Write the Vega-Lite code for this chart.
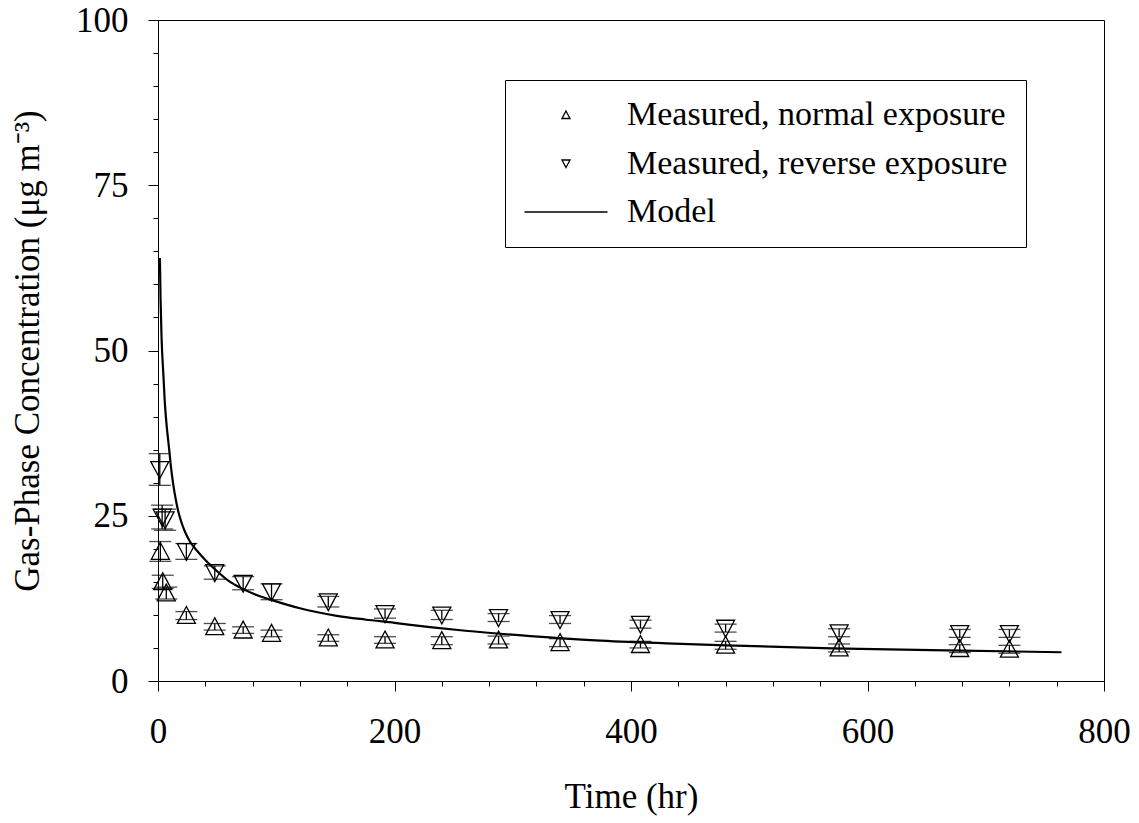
{
  "$schema": "https://vega.github.io/schema/vega-lite/v6.json",
  "width": 946,
  "height": 661,
  "autosize": {"type": "none"},
  "padding": {"left": 158, "top": 20, "right": 35, "bottom": 142},
  "background": "white",
  "datasets": {
    "measured": [
      {"t": 2, "c": 19.6, "lo": 18.1, "hi": 21.1, "series": "Measured, normal exposure"},
      {"t": 4, "c": 15.0, "lo": 14.0, "hi": 16.0, "series": "Measured, normal exposure"},
      {"t": 7, "c": 13.3, "lo": 12.4, "hi": 14.2, "series": "Measured, normal exposure"},
      {"t": 24, "c": 9.9, "lo": 9.3, "hi": 10.5, "series": "Measured, normal exposure"},
      {"t": 48, "c": 8.2, "lo": 7.7, "hi": 8.7, "series": "Measured, normal exposure"},
      {"t": 72, "c": 7.7, "lo": 7.2, "hi": 8.2, "series": "Measured, normal exposure"},
      {"t": 96, "c": 7.2, "lo": 6.7, "hi": 7.7, "series": "Measured, normal exposure"},
      {"t": 144, "c": 6.5, "lo": 6.0, "hi": 7.0, "series": "Measured, normal exposure"},
      {"t": 192, "c": 6.2, "lo": 5.7, "hi": 6.7, "series": "Measured, normal exposure"},
      {"t": 240, "c": 6.1, "lo": 5.5, "hi": 6.7, "series": "Measured, normal exposure"},
      {"t": 288, "c": 6.2, "lo": 5.6, "hi": 6.8, "series": "Measured, normal exposure"},
      {"t": 340, "c": 5.8, "lo": 5.2, "hi": 6.4, "series": "Measured, normal exposure"},
      {"t": 408, "c": 5.5, "lo": 5.0, "hi": 6.0, "series": "Measured, normal exposure"},
      {"t": 480, "c": 5.4, "lo": 4.8, "hi": 6.0, "series": "Measured, normal exposure"},
      {"t": 576, "c": 5.0, "lo": 4.4, "hi": 5.6, "series": "Measured, normal exposure"},
      {"t": 678, "c": 4.9, "lo": 4.3, "hi": 5.5, "series": "Measured, normal exposure"},
      {"t": 720, "c": 4.8, "lo": 4.2, "hi": 5.4, "series": "Measured, normal exposure"},
      {"t": 1.5, "c": 32.0, "lo": 29.6, "hi": 34.4, "series": "Measured, reverse exposure"},
      {"t": 3.5, "c": 24.8, "lo": 23.0, "hi": 26.6, "series": "Measured, reverse exposure"},
      {"t": 6, "c": 24.4, "lo": 22.8, "hi": 26.0, "series": "Measured, reverse exposure"},
      {"t": 24, "c": 19.6, "lo": 18.4, "hi": 20.8, "series": "Measured, reverse exposure"},
      {"t": 48, "c": 16.4, "lo": 15.4, "hi": 17.4, "series": "Measured, reverse exposure"},
      {"t": 72, "c": 14.8, "lo": 13.8, "hi": 15.8, "series": "Measured, reverse exposure"},
      {"t": 96, "c": 13.5, "lo": 12.3, "hi": 14.7, "series": "Measured, reverse exposure"},
      {"t": 144, "c": 12.0, "lo": 11.2, "hi": 12.8, "series": "Measured, reverse exposure"},
      {"t": 192, "c": 10.2, "lo": 9.5, "hi": 10.9, "series": "Measured, reverse exposure"},
      {"t": 240, "c": 10.0, "lo": 9.3, "hi": 10.7, "series": "Measured, reverse exposure"},
      {"t": 288, "c": 9.6, "lo": 9.0, "hi": 10.2, "series": "Measured, reverse exposure"},
      {"t": 340, "c": 9.3, "lo": 8.7, "hi": 9.9, "series": "Measured, reverse exposure"},
      {"t": 408, "c": 8.6, "lo": 8.0, "hi": 9.2, "series": "Measured, reverse exposure"},
      {"t": 480, "c": 8.0, "lo": 7.4, "hi": 8.6, "series": "Measured, reverse exposure"},
      {"t": 576, "c": 7.3, "lo": 6.7, "hi": 7.9, "series": "Measured, reverse exposure"},
      {"t": 678, "c": 7.2, "lo": 6.6, "hi": 7.8, "series": "Measured, reverse exposure"},
      {"t": 720, "c": 7.2, "lo": 6.6, "hi": 7.8, "series": "Measured, reverse exposure"}
    ],
    "model": [
      {"t": 1.6, "c": 64},
      {"t": 2.2, "c": 57.5},
      {"t": 3, "c": 52},
      {"t": 4.5, "c": 46.5},
      {"t": 6, "c": 41.5},
      {"t": 7.5, "c": 38.3},
      {"t": 9, "c": 35.8},
      {"t": 11, "c": 32.3},
      {"t": 13, "c": 29.6},
      {"t": 15, "c": 27.5},
      {"t": 17.5, "c": 25.4},
      {"t": 20, "c": 23.9},
      {"t": 23, "c": 22.5},
      {"t": 27, "c": 21.1},
      {"t": 33, "c": 19.7},
      {"t": 40, "c": 18.3},
      {"t": 50, "c": 16.6},
      {"t": 60, "c": 15.1},
      {"t": 72, "c": 13.9},
      {"t": 85, "c": 12.9},
      {"t": 97, "c": 12.2},
      {"t": 120, "c": 11.0},
      {"t": 135, "c": 10.4},
      {"t": 150, "c": 9.9},
      {"t": 175, "c": 9.3},
      {"t": 200, "c": 8.8},
      {"t": 230, "c": 8.15},
      {"t": 260, "c": 7.6},
      {"t": 315, "c": 6.8},
      {"t": 370, "c": 6.15},
      {"t": 430, "c": 5.7},
      {"t": 480, "c": 5.4},
      {"t": 570, "c": 4.95},
      {"t": 680, "c": 4.6},
      {"t": 764, "c": 4.35}
    ]
  },
  "layer": [
    {
      "data": {"name": "model"},
      "mark": {"type": "line", "color": "black", "strokeWidth": 2.2, "interpolate": "monotone"},
      "encoding": {
        "x": {
          "field": "t", "type": "quantitative",
          "scale": {"domain": [0, 800], "nice": false, "zero": false},
          "axis": {
            "orient": "bottom", "values": [0, 200, 400, 600, 800], "tickSize": 10,
            "labelPadding": 23, "labelFontSize": 35, "labelFont": "Liberation Serif", "labelFlush": false, "labelOverlap": false,
            "title": "Time (hr)", "titleFontSize": 35, "titleFont": "Liberation Serif", "titlePadding": 30
          }
        },
        "y": {
          "field": "c", "type": "quantitative",
          "scale": {"domain": [0, 100], "nice": false},
          "axis": {
            "orient": "left", "values": [0, 25, 50, 75, 100], "tickSize": 10,
            "labelPadding": 20, "labelFontSize": 35, "labelFont": "Liberation Serif", "labelFlush": false, "labelOverlap": false,
            "title": "Gas-Phase Concentration (μg m⁻³)", "titleFontSize": 35, "titleFont": "Liberation Serif", "titlePadding": 30
          }
        }
      }
    },
    {
      "data": {"name": "measured"},
      "mark": {"type": "rule", "color": "black", "strokeWidth": 1.3},
      "encoding": {
        "x": {"field": "t", "type": "quantitative", "axis": null},
        "y": {"field": "lo", "type": "quantitative", "axis": null},
        "y2": {"field": "hi"}
      }
    },
    {
      "data": {"name": "measured"},
      "mark": {"type": "tick", "orient": "horizontal", "color": "black", "size": 22, "thickness": 1.3},
      "encoding": {
        "x": {"field": "t", "type": "quantitative", "axis": null},
        "y": {"field": "lo", "type": "quantitative", "axis": null}
      }
    },
    {
      "data": {"name": "measured"},
      "mark": {"type": "tick", "orient": "horizontal", "color": "black", "size": 22, "thickness": 1.3},
      "encoding": {
        "x": {"field": "t", "type": "quantitative", "axis": null},
        "y": {"field": "hi", "type": "quantitative", "axis": null}
      }
    },
    {
      "data": {"name": "measured"},
      "mark": {"type": "point", "size": 2025, "filled": false, "color": "black", "opacity": 1},
      "encoding": {
        "x": {
          "field": "t", "type": "quantitative",
          "axis": {"orient": "bottom", "values": [40, 80, 120, 160, 240, 280, 320, 360, 440, 480, 520, 560, 640, 680, 720, 760], "labels": false, "tickSize": 5, "domain": false, "title": null, "grid": false}
        },
        "y": {
          "field": "c", "type": "quantitative",
          "axis": {"orient": "left", "values": [5, 10, 15, 20, 30, 35, 40, 45, 55, 60, 65, 70, 80, 85, 90, 95], "labels": false, "tickSize": 5, "domain": false, "title": null, "grid": false}
        },
        "strokeWidth": {
          "field": "series", "type": "ordinal",
          "scale": {
            "domain": ["Measured, normal exposure", "Measured, reverse exposure", "Model"],
            "range": [1.3, 1.3, 2.2]
          },
          "legend": {"title": null}
        },
        "shape": {
          "field": "series", "type": "ordinal",
          "scale": {
            "domain": ["Measured, normal exposure", "Measured, reverse exposure", "Model"],
            "range": ["M0,-0.4L0.4,0.35L-0.4,0.35Z", "M0,0.4L0.4,-0.35L-0.4,-0.35Z", "M-4.15,0H4.15"]
          },
          "legend": {
            "orient": "none", "legendX": 347, "legendY": 60, "title": null,
            "padding": 18, "strokeColor": "black", "fillColor": "white", "cornerRadius": 0,
            "labelFont": "Liberation Serif", "labelFontSize": 34, "labelColor": "black", "labelOffset": 44, "labelLimit": 0,
            "rowPadding": 14.5, "symbolSize": 400, "symbolOffset": 26, "symbolStrokeColor": "black",
            "encode": {
              "symbols": {
                "update": {
                  "size": {"value": 400},
                  "stroke": {"value": "black"},
                  "fill": {"value": "transparent"}
                }
              }
            }
          }
        }
      }
    }
  ],
  "resolve": {"axis": {"x": "independent", "y": "independent"}},
  "config": {
    "view": {"stroke": "black"},
    "font": "Liberation Serif",
    "axis": {
      "domainColor": "black", "tickColor": "black",
      "labelColor": "black", "titleColor": "black", "labelFont": "Liberation Serif", "titleFont": "Liberation Serif",
      "titleFontWeight": "normal", "grid": false
    }
  }
}
